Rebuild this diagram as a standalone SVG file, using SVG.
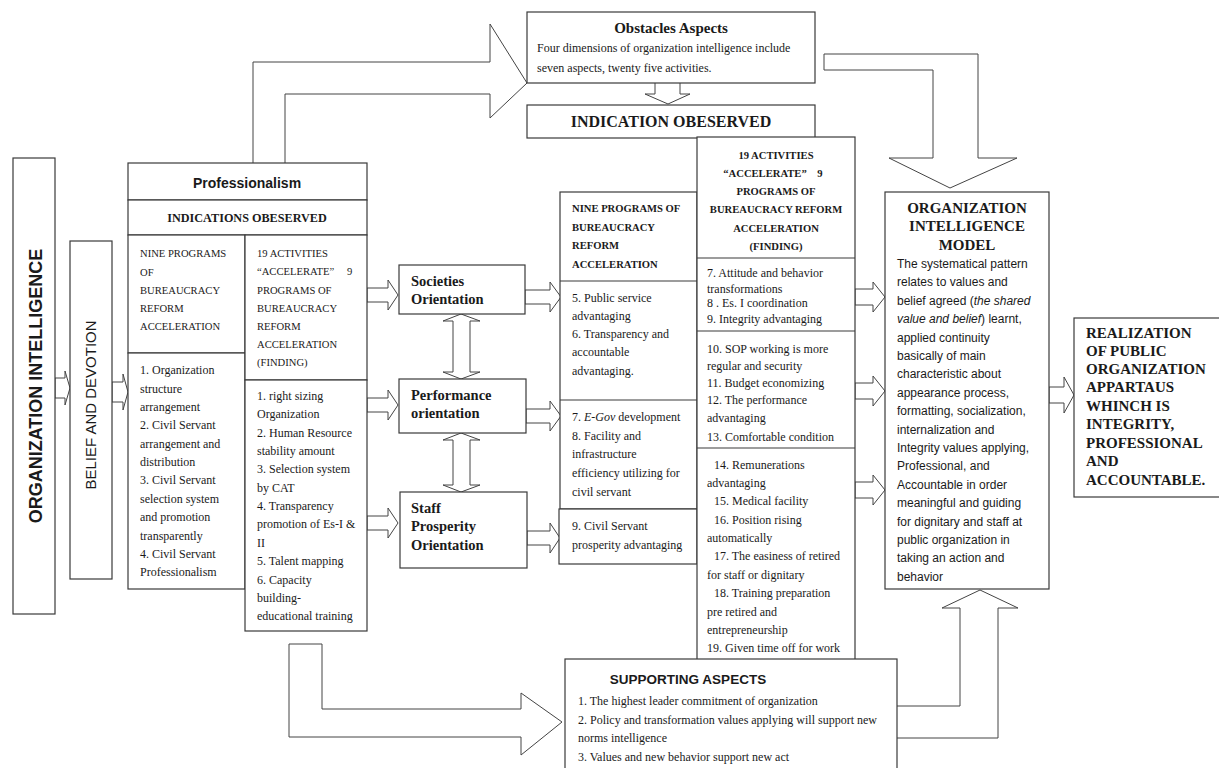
<svg xmlns="http://www.w3.org/2000/svg" width="1219" height="768" viewBox="0 0 1219 768">
<style>
.bx{fill:#fff;stroke:#3a3a3a;stroke-width:1.2}
.ar{fill:#fff;stroke:#444;stroke-width:1}
.ln{fill:none;stroke:#3a3a3a;stroke-width:1.2}
.t{font-family:"Liberation Serif",serif;font-size:12px;fill:#1a1a1a}
.tb{font-family:"Liberation Serif",serif;font-weight:bold;fill:#1a1a1a}
.hc{font-family:"Liberation Serif",serif;font-size:10.6px;fill:#1a1a1a}
.hcb{font-family:"Liberation Serif",serif;font-size:10.6px;font-weight:bold;fill:#1a1a1a}
.sa{font-family:"Liberation Sans",Arial,sans-serif;fill:#1a1a1a}
.c{text-anchor:middle}
</style>
<g id="connectors">
<path class="ar" d="M253,163 V62 H490 V24 L527,83 L490,118 V94 H285 V163"/>
<path class="ar" d="M824,54 H978 V158 H1017 L950,188 L889,158 H933 V70 H824 Z"/>
<path class="ar" d="M655,83 V94 H645 L668,104 L690,94 H680 V83"/>
<path class="ar" d="M289,644 H322 V709 H521 V693 L562,722 L521,755 V737 H289 Z"/>
<path class="ar" d="M897,706 H960 V608 H942 L980,590 L1018,608 H998 V738 H897"/>
<path class="ar" d="M55,378 H65 V371 L70,388 L65,405 V398 H55 Z"/>
<path class="ar" d="M112,382 H123 V374 L128,392 L123,410 V402 H112 Z"/>
<path class="ar" d="M367,288 H388 V280 L398,295 L388,310 V302 H367 Z"/>
<path class="ar" d="M367,398 H388 V390 L398,405 L388,420 V412 H367 Z"/>
<path class="ar" d="M367,516 H388 V508 L398,523 L388,538 V530 H367 Z"/>
<path class="ar" d="M525,290 H550 V282 L561,297 L550,312 V304 H525 Z"/>
<path class="ar" d="M526,409 H550 V401 L561,416 L550,431 V423 H526 Z"/>
<path class="ar" d="M527,531 H550 V523 L560,538 L550,553 V545 H527 Z"/>
<path class="ar" d="M855,289 H873 V282 L885,297 L873,312 V305 H855 Z"/>
<path class="ar" d="M855,383 H873 V376 L885,391 L873,406 V399 H855 Z"/>
<path class="ar" d="M855,482 H873 V475 L885,490 L873,505 V498 H855 Z"/>
<path class="ar" d="M1049,387 H1064 V377 L1074,395 L1064,413 V403 H1049 Z"/>
<path class="ar" d="M461,314 L480,321 H470 V372 H480 L461,379 L443,372 H453 V321 H443 Z"/>
<path class="ar" d="M461,433 L480,440 H470 V485 H480 L461,492 L443,485 H453 V440 H443 Z"/>
</g>
<g id="organization-intelligence">
<rect class="bx" x="13" y="158" width="42" height="456"/>
<text class="sa c" font-size="18" font-weight="bold" transform="translate(42,386) rotate(-90)">ORGANIZATION INTELLIGENCE</text>
</g>
<g id="belief-devotion">
<rect class="bx" x="70" y="241" width="42" height="338"/>
<text class="sa c" font-size="15" transform="translate(96,405) rotate(-90)">BELIEF AND DEVOTION</text>
</g>
<g id="obstacles">
<rect class="bx" x="527" y="12" width="288" height="71"/>
<text class="tb c" x="671" y="33" font-size="15">Obstacles Aspects</text>
<text class="t" x="537" y="52">Four dimensions of organization intelligence include</text>
<text class="t" x="537" y="72">seven aspects, twenty five activities.</text>
</g>
<g id="indication-observed">
<rect class="bx" x="527" y="105" width="288" height="33"/>
<text class="tb c" x="671" y="127" font-size="16">INDICATION OBESERVED</text>
</g>
<g id="professionalism">
<rect class="bx" x="128" y="163" width="239" height="37"/>
<text class="sa c" x="247" y="188" font-size="14" font-weight="bold">Professionalism</text>
<rect class="bx" x="128" y="200" width="239" height="35"/>
<text class="tb c" x="247" y="222" font-size="12.2">INDICATIONS OBESERVED</text>
</g>
<g id="nine-programs-1">
<rect class="bx" x="128" y="235" width="117" height="118"/>
<text class="hc" x="140"><tspan x="140" y="257">NINE PROGRAMS</tspan><tspan x="140" y="276">OF</tspan><tspan x="140" y="294">BUREAUCRACY</tspan><tspan x="140" y="312">REFORM</tspan><tspan x="140" y="330">ACCELERATION</tspan></text>
<rect class="bx" x="128" y="353" width="117" height="236"/>
<text class="t"><tspan x="140" y="374">1. Organization</tspan><tspan x="140" y="393">structure</tspan><tspan x="140" y="411">arrangement</tspan><tspan x="140" y="429">2. Civil Servant</tspan><tspan x="140" y="448">arrangement and</tspan><tspan x="140" y="466">distribution</tspan><tspan x="140" y="484">3. Civil Servant</tspan><tspan x="140" y="503">selection system</tspan><tspan x="140" y="521">and promotion</tspan><tspan x="140" y="540">transparently</tspan><tspan x="140" y="558">4. Civil Servant</tspan><tspan x="140" y="576">Professionalism</tspan></text>
</g>
<g id="activities-1">
<rect class="bx" x="245" y="235" width="122" height="145"/>
<text class="hc"><tspan x="257" y="257">19 ACTIVITIES</tspan><tspan x="257" y="275">“ACCELERATE”</tspan><tspan x="347" y="275">9</tspan><tspan x="257" y="294">PROGRAMS OF</tspan><tspan x="257" y="312">BUREAUCRACY</tspan><tspan x="257" y="330">REFORM</tspan><tspan x="257" y="348">ACCELERATION</tspan><tspan x="257" y="366">(FINDING)</tspan></text>
<rect class="bx" x="245" y="380" width="122" height="251"/>
<text class="t"><tspan x="257" y="400">1. right sizing</tspan><tspan x="257" y="418">Organization</tspan><tspan x="257" y="437">2. Human Resource</tspan><tspan x="257" y="455">stability amount</tspan><tspan x="257" y="473">3. Selection system</tspan><tspan x="257" y="492">by CAT</tspan><tspan x="257" y="510">4. Transparency</tspan><tspan x="257" y="528">promotion of Es-I &amp;</tspan><tspan x="257" y="547">II</tspan><tspan x="257" y="565">5. Talent mapping</tspan><tspan x="257" y="584">6. Capacity</tspan><tspan x="257" y="602">building-</tspan><tspan x="257" y="620">educational training</tspan></text>
</g>
<g id="societies">
<rect class="bx" x="399" y="265" width="126" height="49"/>
<text class="tb" font-size="14.5"><tspan x="411" y="286">Societies</tspan><tspan x="411" y="304">Orientation</tspan></text>
</g>
<g id="performance">
<rect class="bx" x="399" y="379" width="127" height="54"/>
<text class="tb" font-size="14.5"><tspan x="411" y="400">Performance</tspan><tspan x="411" y="418">orientation</tspan></text>
</g>
<g id="staff">
<rect class="bx" x="400" y="492" width="127" height="76"/>
<text class="tb" font-size="14.5"><tspan x="411" y="513">Staff</tspan><tspan x="411" y="531">Prosperity</tspan><tspan x="411" y="550">Orientation</tspan></text>
</g>
<g id="nine-programs-2">
<rect class="bx" x="560" y="192" width="137" height="317"/>
<line class="ln" x1="560" y1="281" x2="697" y2="281"/>
<line class="ln" x1="560" y1="400" x2="697" y2="400"/>
<text class="hcb"><tspan x="572" y="212">NINE PROGRAMS OF</tspan><tspan x="572" y="231">BUREAUCRACY</tspan><tspan x="572" y="249">REFORM</tspan><tspan x="572" y="268">ACCELERATION</tspan></text>
<text class="t"><tspan x="572" y="302">5. Public service</tspan><tspan x="572" y="320">advantaging</tspan><tspan x="572" y="338">6. Transparency and</tspan><tspan x="572" y="356">accountable</tspan><tspan x="572" y="375">advantaging.</tspan></text>
<text class="t"><tspan x="572" y="421">7. <tspan font-style="italic">E-Gov</tspan> development</tspan><tspan x="572" y="440">8. Facility and</tspan><tspan x="572" y="458">infrastructure</tspan><tspan x="572" y="477">efficiency utilizing for</tspan><tspan x="572" y="496">civil servant</tspan></text>
</g>
<g id="prosperity-program">
<rect class="bx" x="559" y="509" width="138" height="55"/>
<text class="t"><tspan x="572" y="530">9. Civil Servant</tspan><tspan x="572" y="549">prosperity advantaging</tspan></text>
</g>
<g id="activities-2">
<rect class="bx" x="697" y="137" width="158" height="523"/>
<line class="ln" x1="697" y1="258" x2="855" y2="258"/>
<line class="ln" x1="697" y1="331" x2="855" y2="331"/>
<line class="ln" x1="697" y1="448" x2="855" y2="448"/>
<text class="hcb c"><tspan x="776" y="159">19 ACTIVITIES</tspan><tspan x="765" y="177">“ACCELERATE”</tspan><tspan x="820" y="177">9</tspan><tspan x="776" y="195">PROGRAMS OF</tspan><tspan x="776" y="213">BUREAUCRACY REFORM</tspan><tspan x="776" y="232">ACCELERATION</tspan><tspan x="776" y="250">(FINDING)</tspan></text>
<text class="t"><tspan x="707" y="277">7. Attitude and behavior</tspan><tspan x="707" y="293">transformations</tspan><tspan x="707" y="307">8 . Es. I coordination</tspan><tspan x="707" y="323">9. Integrity advantaging</tspan></text>
<text class="t"><tspan x="707" y="353">10. SOP working is more</tspan><tspan x="707" y="370">regular and security</tspan><tspan x="707" y="387">11. Budget economizing</tspan><tspan x="707" y="404">12. The performance</tspan><tspan x="707" y="422">advantaging</tspan><tspan x="707" y="441">13. Comfortable condition</tspan></text>
<text class="t"><tspan x="714" y="469">14. Remunerations</tspan><tspan x="707" y="487">advantaging</tspan><tspan x="714" y="505">15. Medical facility</tspan><tspan x="714" y="524">16. Position rising</tspan><tspan x="707" y="542">automatically</tspan><tspan x="714" y="560">17. The easiness of retired</tspan><tspan x="707" y="579">for staff or dignitary</tspan><tspan x="714" y="597">18. Training preparation</tspan><tspan x="707" y="616">pre retired and</tspan><tspan x="707" y="634">entrepreneurship</tspan><tspan x="707" y="652">19. Given time off for work</tspan></text>
</g>
<g id="supporting">
<rect class="bx" x="565" y="659" width="332" height="115"/>
<text class="sa c" x="688" y="684" font-size="13.5" font-weight="bold">SUPPORTING ASPECTS</text>
<text class="t"><tspan x="578" y="705">1. The highest leader commitment of organization</tspan><tspan x="578" y="724">2. Policy and transformation values applying will support new</tspan><tspan x="578" y="742">norms intelligence</tspan><tspan x="578" y="761">3. Values and new behavior support new act</tspan></text>
</g>
<g id="oi-model">
<rect class="bx" x="885" y="192" width="164" height="397"/>
<text class="tb c" font-size="15"><tspan x="967" y="213">ORGANIZATION</tspan><tspan x="967" y="231">INTELLIGENCE</tspan><tspan x="967" y="250">MODEL</tspan></text>
<text class="sa" font-size="12"><tspan x="897" y="268">The systematical pattern</tspan><tspan x="897" y="286.4">relates to values and</tspan><tspan x="897" y="304.8">belief agreed (<tspan font-style="italic">the shared</tspan></tspan><tspan x="897" y="323.2"><tspan font-style="italic">value and belief</tspan>) learnt,</tspan><tspan x="897" y="341.6">applied continuity</tspan><tspan x="897" y="360">basically of main</tspan><tspan x="897" y="378.4">characteristic about</tspan><tspan x="897" y="396.8">appearance process,</tspan><tspan x="897" y="415.2">formatting, socialization,</tspan><tspan x="897" y="433.6">internalization and</tspan><tspan x="897" y="452">Integrity values applying,</tspan><tspan x="897" y="470.4">Professional, and</tspan><tspan x="897" y="488.8">Accountable in order</tspan><tspan x="897" y="507.2">meaningful and guiding</tspan><tspan x="897" y="525.6">for dignitary and staff at</tspan><tspan x="897" y="544">public organization in</tspan><tspan x="897" y="562.4">taking an action and</tspan><tspan x="897" y="580.8">behavior</tspan></text>
</g>
<g id="realization">
<rect class="bx" x="1074" y="318" width="150" height="179"/>
<text class="tb" font-size="15"><tspan x="1086" y="338">REALIZATION</tspan><tspan x="1086" y="356">OF PUBLIC</tspan><tspan x="1086" y="374">ORGANIZATION</tspan><tspan x="1086" y="392">APPARTAUS</tspan><tspan x="1086" y="411">WHINCH IS</tspan><tspan x="1086" y="429">INTEGRITY,</tspan><tspan x="1086" y="448">PROFESSIONAL</tspan><tspan x="1086" y="466">AND</tspan><tspan x="1086" y="485">ACCOUNTABLE.</tspan></text>
</g>
</svg>
